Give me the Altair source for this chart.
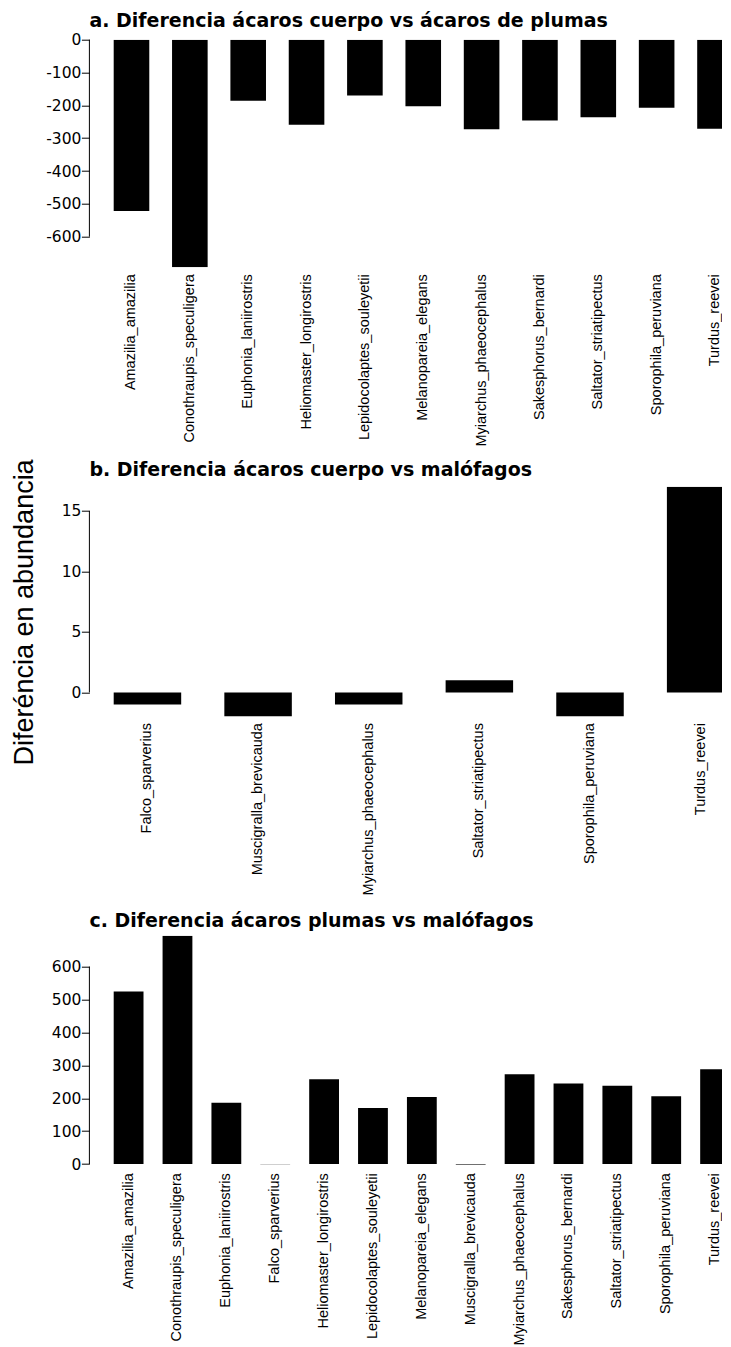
import altair as alt
import pandas as pd

# ---------------- data ----------------
species_a = ["Amazilia_amazilia", "Conothraupis_speculigera", "Euphonia_laniirostris",
             "Heliomaster_longirostris", "Lepidocolaptes_souleyetii", "Melanopareia_elegans",
             "Myiarchus_phaeocephalus", "Sakesphorus_bernardi", "Saltator_striatipectus",
             "Sporophila_peruviana", "Turdus_reevei"]
values_a = [-522, -693, -186, -259, -170, -203, -273, -246, -236, -207, -271]

species_b = ["Falco_sparverius", "Muscigralla_brevicauda", "Myiarchus_phaeocephalus",
             "Saltator_striatipectus", "Sporophila_peruviana", "Turdus_reevei"]
values_b = [-1, -2, -1, 1, -2, 17]

species_c = ["Amazilia_amazilia", "Conothraupis_speculigera", "Euphonia_laniirostris",
             "Falco_sparverius", "Heliomaster_longirostris", "Lepidocolaptes_souleyetii",
             "Melanopareia_elegans", "Muscigralla_brevicauda", "Myiarchus_phaeocephalus",
             "Sakesphorus_bernardi", "Saltator_striatipectus", "Sporophila_peruviana",
             "Turdus_reevei"]
values_c = [524, 694, 186, -1, 258, 170, 204, -2, 273, 245, 238, 206, 288]

ticks_a = [0, -100, -200, -300, -400, -500, -600]
ticks_b = [0, 5, 10, 15]
ticks_c = [0, 100, 200, 300, 400, 500, 600]

title_a = "a. Diferencia ácaros cuerpo vs ácaros de plumas"
title_b = "b. Diferencia ácaros cuerpo vs malófagos"
title_c = "c. Diferencia ácaros plumas vs malófagos"
y_title = "Diferéncia en abundancia"


def panel(species, values, ticks, domain, height, title, title_y, label_pad,
          x_range, ytitle=None):
    df = pd.DataFrame({"species": species, "value": values})
    yaxis = dict(values=ticks, domain=False, grid=False, tickSize=8, tickColor="black",
                 tickWidth=1, labelPadding=0.5, labelFont="DejaVu Sans", labelFontSize=15.5,
                 labelColor="black", labelExpr="'' + datum.value", labelOverlap=False)
    if ytitle:
        yaxis.update(title=ytitle, titleFont="Liberation Sans", titleFontSize=27,
                     titleFontWeight="normal", titleColor="black", titleAngle=270,
                     titleBaseline="alphabetic", titleAlign="center", titleX=-57, titleY=125.2)
    else:
        yaxis.update(title=None)
    yscale = alt.Scale(domain=domain, nice=False, zero=False)
    bars = alt.Chart(df).mark_bar(color="black", clip=True).encode(
        x=alt.X("species:N", sort=None,
                scale=alt.Scale(range=x_range, paddingInner=0.39, paddingOuter=0),
                axis=alt.Axis(title=None, labelAngle=270, domain=False, ticks=False,
                              labelPadding=label_pad, labelFont="Liberation Sans",
                              labelFontSize=14.5, labelColor="black", labelLimit=400,
                              labelOverlap=False, labelAlign="right", labelBaseline="middle")),
        y=alt.Y("value:Q", scale=yscale, axis=alt.Axis(**yaxis)),
    )
    # axis line spanning only the tick range (as in R)
    rule_df = pd.DataFrame({"value": [max(ticks)], "value2": [min(ticks)]})
    rule = alt.Chart(rule_df).mark_rule(color="black", strokeWidth=1).encode(
        x=alt.value(0), y=alt.Y("value:Q", scale=yscale, axis=alt.Axis(**yaxis)),
        y2="value2:Q")
    # panel title as a text mark above the plot
    title_df = pd.DataFrame({"t": [title]})
    head = alt.Chart(title_df).mark_text(
        font="DejaVu Sans", fontSize=19, fontWeight="bold", color="black",
        align="left", baseline="alphabetic").encode(
        text="t:N", x=alt.value(0), y=alt.value(title_y))
    return alt.layer(bars, rule, head).properties(width=633, height=height)


pa = panel(species_a, values_a, ticks_a, [-693, 0], 227.5, title_a, -12.6, 6.5, [24.3, 643.4])
pb = panel(species_b, values_b, ticks_b, [-2, 17], 229.9, title_b, -10.8, 6, [24.3, 645],
           ytitle=y_title)
pc = panel(species_c, values_c, ticks_c, [-2, 694], 229, title_c, -8.7, 8, [24.3, 640.6])

chart = alt.vconcat(pa, pb, pc, spacing=219, bounds="flush").properties(
    padding={"left": 1.4, "top": 3.7, "right": -0.5, "bottom": 0},
    background="white",
).configure_view(stroke=None)

chart.save("out.html", embed_options={"renderer": "svg", "actions": False})
